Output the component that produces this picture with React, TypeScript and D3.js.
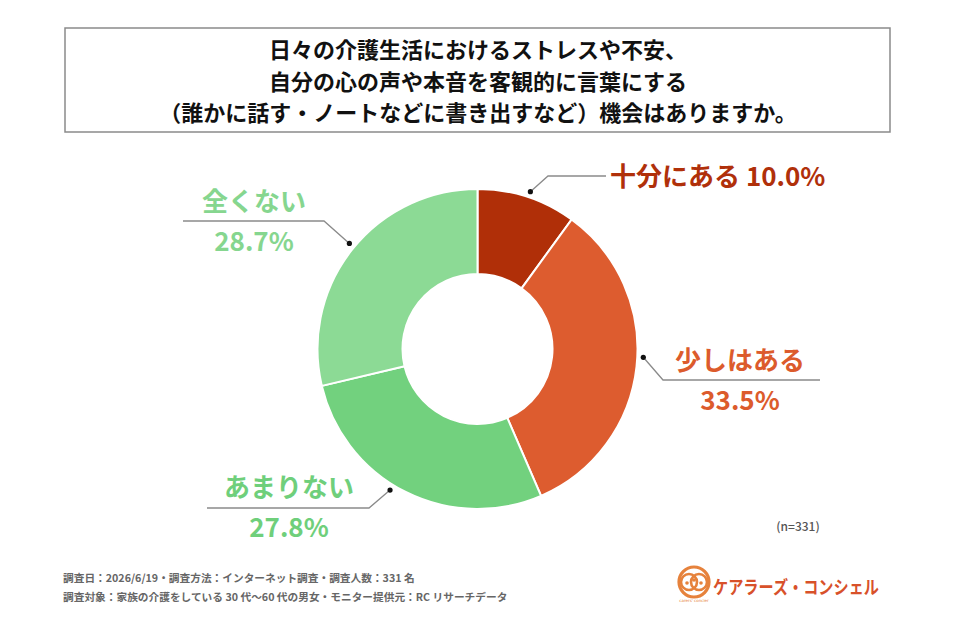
import React, { useEffect, useRef } from "react";
import * as d3 from "d3";

// survey answers, clockwise from 12 o'clock
const categories = ["十分にある", "少しはある", "あまりない", "全くない"];
const percents = [10.0, 33.5, 27.8, 28.7];
const sliceColors = ["#b02f08", "#dd5c2f", "#72d17e", "#8cda95"];
const labelColors = ["#b0300a", "#dc5b2c", "#6fcf7b", "#86d68f"];

const titleLines = [
  "日々の介護生活におけるストレスや不安、",
  "自分の心の声や本音を客観的に言葉にする",
  "（誰かに話す・ノートなどに書き出すなど）機会はありますか。",
];
const footnotes = [
  "調査日：2026/6/19・調査方法：インターネット調査・調査人数：331 名",
  "調査対象：家族の介護をしている 30 代〜60 代の男女・モニター提供元：RC リサーチデータ",
];
const sampleNote = "(n=331)";

const W = 955;
const H = 630;
const FONT = "'Noto Sans CJK JP', 'Noto Sans', sans-serif";

// where each callout ends up: elbow point, horizontal line end, and text placement
type Callout = {
  elbow: [number, number];
  lineEnd: number;
  inline: boolean;
  textX: number;
  nameY: number;
  pctY: number;
  dotAngle: number; // small nudge from the slice middle, radians
};
const callouts: Callout[] = [
  { elbow: [548, 176], lineEnd: 606, inline: true, textX: 610, nameY: 186, pctY: 186, dotAngle: 0.01 },
  { elbow: [663, 380], lineEnd: 820, inline: false, textX: 740, nameY: 370, pctY: 410, dotAngle: -0.06 },
  { elbow: [369, 508], lineEnd: 207, inline: false, textX: 289, nameY: 497, pctY: 537, dotAngle: 0.09 },
  { elbow: [324, 221], lineEnd: 183, inline: false, textX: 254, nameY: 211, pctY: 251, dotAngle: 0.02 },
];

export default function App() {
  const ref = useRef<SVGSVGElement>(null);

  useEffect(() => {
    if (!ref.current) return;
    const svg = d3.select(ref.current);
    svg.selectAll("*").remove();

    svg.append("rect").attr("width", W).attr("height", H).attr("fill", "#fff");

    // question box
    svg
      .append("rect")
      .attr("x", 65)
      .attr("y", 28)
      .attr("width", 825)
      .attr("height", 104)
      .attr("fill", "#fff")
      .attr("stroke", "#8a8a8a")
      .attr("stroke-width", 1.5);

    svg
      .append("g")
      .selectAll("text")
      .data(titleLines)
      .join("text")
      .attr("x", 478)
      .attr("y", (_, i) => 58 + i * 31.5)
      .attr("text-anchor", "middle")
      .attr("font-family", FONT)
      .attr("font-size", 22)
      .attr("font-weight", 700)
      .attr("fill", "#111")
      .text((d) => d);

    // donut
    const cx = 477.5;
    const cy = 349;
    const outerR = 160;
    const innerR = 75;

    const data = categories.map((name, i) => ({ name, value: percents[i], i }));
    const pie = d3
      .pie<(typeof data)[number]>()
      .sort(null)
      .value((d) => d.value);
    const arcs = pie(data);
    const arc = d3
      .arc<d3.PieArcDatum<(typeof data)[number]>>()
      .innerRadius(innerR)
      .outerRadius(outerR);

    const g = svg.append("g").attr("transform", `translate(${cx},${cy})`);
    g.selectAll("path")
      .data(arcs)
      .join("path")
      .attr("d", arc as any)
      .attr("fill", (d) => sliceColors[d.data.i])
      .attr("stroke", "#fff")
      .attr("stroke-width", 2);

    // callouts
    const lines = svg.append("g");
    arcs.forEach((d) => {
      const c = callouts[d.data.i];
      const a = (d.startAngle + d.endAngle) / 2 + c.dotAngle;
      const r = outerR + 6;
      const dx = cx + Math.sin(a) * r;
      const dy = cy - Math.cos(a) * r;

      lines
        .append("polyline")
        .attr("points", [[dx, dy], c.elbow, [c.lineEnd, c.elbow[1]]].join(" "))
        .attr("fill", "none")
        .attr("stroke", "#8a8a8a")
        .attr("stroke-width", 1.3);
      lines.append("circle").attr("cx", dx).attr("cy", dy).attr("r", 2.6).attr("fill", "#111");

      const color = labelColors[d.data.i];
      const pct = `${d.data.value.toFixed(1)}%`;
      if (c.inline) {
        lines
          .append("text")
          .attr("x", c.textX)
          .attr("y", c.nameY)
          .attr("font-family", FONT)
          .attr("font-size", 26)
          .attr("font-weight", 700)
          .attr("fill", color)
          .text(`${d.data.name} ${pct}`);
      } else {
        [d.data.name, pct].forEach((t, k) => {
          lines
            .append("text")
            .attr("x", c.textX)
            .attr("y", k === 0 ? c.nameY : c.pctY)
            .attr("text-anchor", "middle")
            .attr("font-family", FONT)
            .attr("font-size", 26)
            .attr("font-weight", 700)
            .attr("fill", color)
            .text(t);
        });
      }
    });

    svg
      .append("text")
      .attr("x", 798)
      .attr("y", 531)
      .attr("text-anchor", "middle")
      .attr("font-family", FONT)
      .attr("font-size", 12)
      .attr("font-weight", 500)
      .attr("fill", "#555")
      .text(sampleNote);

    svg
      .append("g")
      .selectAll("text")
      .data(footnotes)
      .join("text")
      .attr("x", 63)
      .attr("y", (_, i) => 582 + i * 18.5)
      .attr("font-family", FONT)
      .attr("font-size", 10.7)
      .attr("font-weight", 700)
      .attr("fill", "#666")
      .text((d) => d);

    // logo
    const logo = svg.append("g").attr("transform", "translate(694,582)");
    const orange = "#e6823c";
    logo.append("circle").attr("r", 15).attr("fill", "none").attr("stroke", orange).attr("stroke-width", 3.2);
    logo.append("circle").attr("cx", -5).attr("r", 8).attr("fill", "none").attr("stroke", orange).attr("stroke-width", 2.6);
    logo.append("circle").attr("cx", 5).attr("r", 8).attr("fill", "none").attr("stroke", orange).attr("stroke-width", 2.6);
    [-7, 0, 7].forEach((x) => {
      logo.append("circle").attr("cx", x).attr("cy", x === 0 ? -2 : 1).attr("r", 1.8).attr("fill", orange);
    });
    logo
      .append("text")
      .attr("y", 20)
      .attr("text-anchor", "middle")
      .attr("font-family", "'DejaVu Sans', sans-serif")
      .attr("font-size", 4)
      .attr("fill", orange)
      .text("carers' concier");

    svg
      .append("text")
      .attr("x", 713)
      .attr("y", 594)
      .attr("font-family", FONT)
      .attr("font-size", 18.5)
      .attr("font-weight", 700)
      .attr("fill", "#d8512a")
      .attr("textLength", 166)
      .attr("lengthAdjust", "spacingAndGlyphs")
      .text("ケアラーズ・コンシェル");
  }, []);

  return (
    <svg
      ref={ref}
      width={W}
      height={H}
      viewBox={`0 0 ${W} ${H}`}
      style={{ display: "block", margin: "-8px" }}
    />
  );
}
